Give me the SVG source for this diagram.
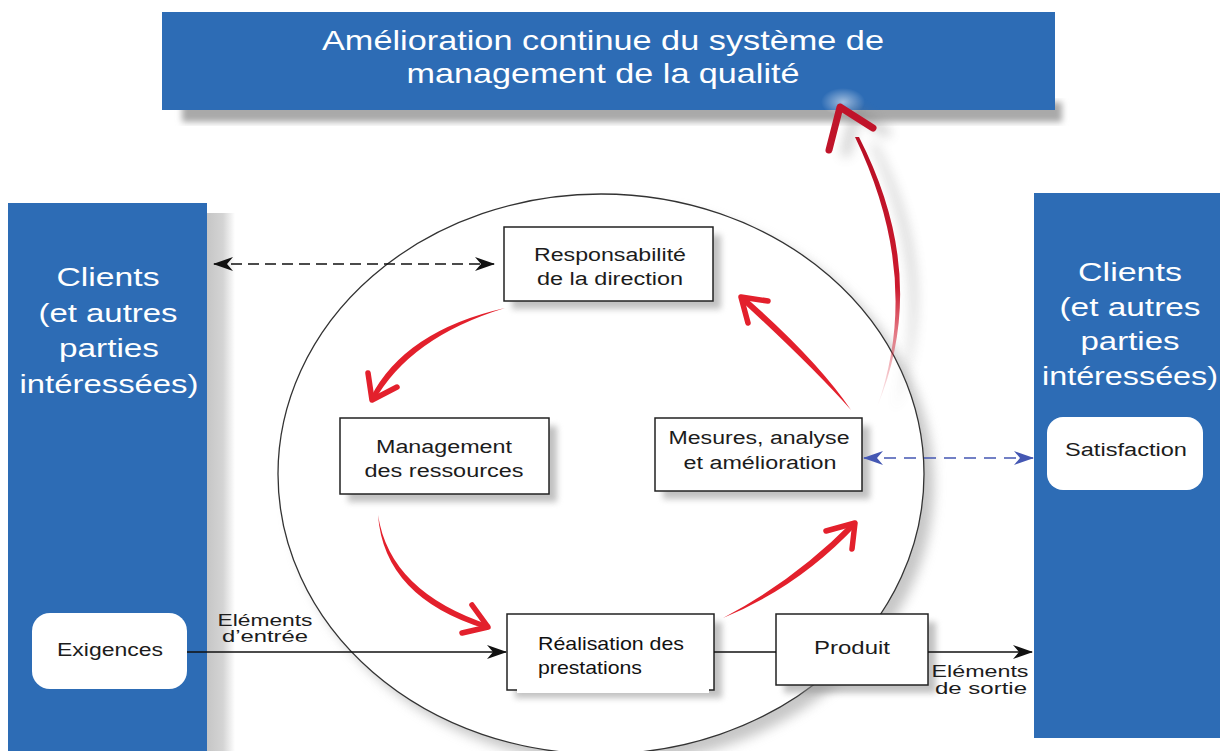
<svg xmlns="http://www.w3.org/2000/svg" width="1220" height="751" viewBox="0 0 1220 751">
  <defs>
    <style>
      .panel { fill: #2d6cb5; }
      .ptxt { font-family: "Liberation Sans", Arial, sans-serif; font-size: 26px; fill: #ffffff; text-anchor: middle; }
      .btxt { font-family: "Liberation Sans", Arial, sans-serif; font-size: 28px; fill: #ffffff; text-anchor: middle; }
      .box { fill: #ffffff; stroke: #222222; stroke-width: 1.5; }
      .pill { fill: #ffffff; }
      .ntxt { font-family: "Liberation Sans", Arial, sans-serif; font-size: 18px; fill: #1c1c1c; text-anchor: middle; }
      .ltxt { font-family: "Liberation Sans", Arial, sans-serif; font-size: 16px; fill: #1c1c1c; text-anchor: middle; }
      .shadow { fill: #8f8f8f; opacity: 0.55; }
      .flow { stroke: #111111; stroke-width: 1.5; fill: none; }
      .dash { stroke: #111111; stroke-width: 1.6; stroke-dasharray: 11 6; fill: none; }
      .dashblue { stroke: #4457b3; stroke-width: 1.6; stroke-dasharray: 12 8; fill: none; }
      .redbody { fill: #e3202c; }
      .redhead { fill: none; stroke: #e3202c; stroke-width: 5.5; stroke-linecap: round; stroke-linejoin: round; }
    </style>
    <filter id="blur3" x="-20%" y="-20%" width="140%" height="140%">
      <feGaussianBlur stdDeviation="3"/>
    </filter>
    <filter id="blur6" x="-30%" y="-30%" width="160%" height="160%">
      <feGaussianBlur stdDeviation="6"/>
    </filter>
    <marker id="ahBlack" markerWidth="20" markerHeight="14" refX="19" refY="7" orient="auto-start-reverse" markerUnits="userSpaceOnUse">
      <path d="M0,0 L20,7 L0,14 L6,7 Z" fill="#111111"/>
    </marker>
    <marker id="ahBlue" markerWidth="20" markerHeight="14" refX="19" refY="7" orient="auto-start-reverse" markerUnits="userSpaceOnUse">
      <path d="M0,0 L20,7 L0,14 L6,7 Z" fill="#4457b3"/>
    </marker>
    <linearGradient id="bigShaft" gradientUnits="userSpaceOnUse" x1="0" y1="137" x2="0" y2="410">
      <stop offset="0" stop-color="#b80f25" stop-opacity="1"/>
      <stop offset="0.55" stop-color="#cc1a2e" stop-opacity="1"/>
      <stop offset="1" stop-color="#e04050" stop-opacity="0"/>
    </linearGradient>
    <linearGradient id="sideShade" x1="0" y1="0" x2="1" y2="0">
      <stop offset="0" stop-color="#c4c4c4"/>
      <stop offset="0.6" stop-color="#d4d4d4"/>
      <stop offset="1" stop-color="#ffffff"/>
    </linearGradient>
    <radialGradient id="glow">
      <stop offset="0" stop-color="#ffffff" stop-opacity="0.55"/>
      <stop offset="1" stop-color="#ffffff" stop-opacity="0"/>
    </radialGradient>
  </defs>

  <rect width="1220" height="751" fill="#ffffff"/>

  <!-- process ellipse with its soft shadow -->
  <g id="cycle-ring">
    <ellipse cx="611" cy="484" rx="323" ry="280" fill="#9a9a9a" opacity="0.55" filter="url(#blur6)"/>
    <ellipse cx="601" cy="474" rx="323" ry="280" fill="#ffffff" stroke="#333333" stroke-width="1.3"/>
  </g>

  <!-- top banner -->
  <g id="banner">
    <rect x="182" y="102" width="880" height="20" fill="#a9a9a9" filter="url(#blur3)"/>
    <rect class="panel" x="162" y="12" width="893" height="98"/>
    <ellipse cx="843" cy="102" rx="22" ry="14" fill="url(#glow)"/>
    <text class="btxt" x="603" y="50" textLength="562" lengthAdjust="spacingAndGlyphs">Amélioration continue du système de</text>
    <text class="btxt" x="603" y="83" textLength="393" lengthAdjust="spacingAndGlyphs">management de la qualité</text>
  </g>

  <!-- left customers panel -->
  <g id="clients-left">
    <rect x="205" y="213" width="30" height="538" fill="url(#sideShade)"/>
    <rect class="panel" x="8" y="203" width="199" height="548"/>
    <text class="ptxt" x="108" y="286" textLength="103" lengthAdjust="spacingAndGlyphs">Clients</text>
    <text class="ptxt" x="108" y="322" textLength="139" lengthAdjust="spacingAndGlyphs">(et autres</text>
    <text class="ptxt" x="109" y="357" textLength="100" lengthAdjust="spacingAndGlyphs">parties</text>
    <text class="ptxt" x="109" y="393" textLength="179" lengthAdjust="spacingAndGlyphs">intéressées)</text>
  </g>
  <g id="exigences">
    <rect class="pill" x="32" y="613" width="155" height="76" rx="18"/>
    <text class="ntxt" x="110" y="656" textLength="106" lengthAdjust="spacingAndGlyphs">Exigences</text>
  </g>

  <!-- right customers panel -->
  <g id="clients-right">
    <rect class="panel" x="1034" y="193" width="186" height="545"/>
    <text class="ptxt" x="1130" y="281" textLength="104" lengthAdjust="spacingAndGlyphs">Clients</text>
    <text class="ptxt" x="1130" y="316" textLength="141" lengthAdjust="spacingAndGlyphs">(et autres</text>
    <text class="ptxt" x="1130" y="350" textLength="99" lengthAdjust="spacingAndGlyphs">parties</text>
    <text class="ptxt" x="1130" y="385" textLength="176" lengthAdjust="spacingAndGlyphs">intéressées)</text>
  </g>
  <g id="satisfaction">
    <rect class="pill" x="1047" y="417" width="156" height="73" rx="16"/>
    <text class="ntxt" x="1126" y="456" textLength="122" lengthAdjust="spacingAndGlyphs">Satisfaction</text>
  </g>

  <!-- process boxes -->
  <g id="responsabilite">
    <rect class="shadow" x="512" y="235" width="209" height="74" filter="url(#blur3)"/>
    <rect class="box" x="504" y="227" width="209" height="74"/>
    <text class="ntxt" x="610" y="261" textLength="152" lengthAdjust="spacingAndGlyphs">Responsabilité</text>
    <text class="ntxt" x="610" y="285" textLength="146" lengthAdjust="spacingAndGlyphs">de la direction</text>
  </g>
  <g id="management">
    <rect class="shadow" x="348" y="426" width="209" height="76" filter="url(#blur3)"/>
    <rect class="box" x="340" y="418" width="209" height="76"/>
    <text class="ntxt" x="444" y="453" textLength="136" lengthAdjust="spacingAndGlyphs">Management</text>
    <text class="ntxt" x="444" y="477" textLength="159" lengthAdjust="spacingAndGlyphs">des ressources</text>
  </g>
  <g id="mesures">
    <rect class="shadow" x="663" y="426" width="207" height="73" filter="url(#blur3)"/>
    <rect class="box" x="655" y="418" width="207" height="73"/>
    <text class="ntxt" x="759" y="444" textLength="181" lengthAdjust="spacingAndGlyphs">Mesures, analyse</text>
    <text class="ntxt" x="760" y="469" textLength="153" lengthAdjust="spacingAndGlyphs">et amélioration</text>
  </g>
  <g id="realisation">
    <rect class="shadow" x="515" y="622" width="207" height="76" filter="url(#blur3)"/>
    <rect class="box" x="507" y="614" width="207" height="76"/>
    <rect x="517" y="687" width="192" height="6" fill="#ffffff"/>
    <text x="538" y="650" font-family="Liberation Sans, Arial, sans-serif" font-size="19" fill="#111111" textLength="146" lengthAdjust="spacingAndGlyphs">Réalisation des</text>
    <text x="538" y="674" font-family="Liberation Sans, Arial, sans-serif" font-size="19" fill="#111111" textLength="104" lengthAdjust="spacingAndGlyphs">prestations</text>
  </g>
  <g id="produit">
    <rect class="shadow" x="784" y="622" width="152" height="71" filter="url(#blur3)"/>
    <rect class="box" x="776" y="614" width="152" height="71"/>
    <text class="ntxt" x="852" y="654" textLength="76" lengthAdjust="spacingAndGlyphs">Produit</text>
  </g>

  <!-- connectors -->
  <g id="connectors">
    <line class="flow" x1="187" y1="652" x2="506" y2="652" marker-end="url(#ahBlack)"/>
    <line class="flow" x1="714" y1="652" x2="776" y2="652"/>
    <line class="flow" x1="928" y1="652" x2="1032" y2="652" marker-end="url(#ahBlack)"/>
    <line class="dash" x1="214" y1="264" x2="494" y2="264" marker-start="url(#ahBlack)" marker-end="url(#ahBlack)"/>
    <line class="dashblue" x1="864" y1="458" x2="1033" y2="458" marker-start="url(#ahBlue)" marker-end="url(#ahBlue)"/>

    <text class="ltxt" x="265" y="626" textLength="95" lengthAdjust="spacingAndGlyphs">Eléments</text>
    <text class="ltxt" x="265" y="642" textLength="86" lengthAdjust="spacingAndGlyphs">d’entrée</text>
    <text class="ltxt" x="980" y="677" textLength="97" lengthAdjust="spacingAndGlyphs">Eléments</text>
    <text class="ltxt" x="981" y="694" textLength="92" lengthAdjust="spacingAndGlyphs">de sortie</text>

    <!-- improvement cycle: brush-style red arrows -->
    <path class="redbody" d="M505,308 Q404.7,330.7 370.4,397.7 L373.6,402.3 Q409.3,337.3 505,308 Z"/>
    <polyline class="redhead" points="368,373 372,400 397,387"/>
    <path class="redbody" d="M378,515 Q384.1,597.8 486,629 L490,625 Q389.9,592.2 378,515 Z"/>
    <polyline class="redhead" points="462,633 488,627 472,605"/>
    <path class="redbody" d="M723,618 Q799.3,586.7 856.6,525.3 L853.4,520.7 Q794.7,580.3 723,618 Z"/>
    <polyline class="redhead" points="826,531 855,523 852,549"/>
    <path class="redbody" d="M851,410 Q816.9,359.7 743,295 L739,299 Q811.1,365.3 851,410 Z"/>
    <polyline class="redhead" points="748,323 741,297 768,301"/>

    <!-- rising arrow toward continual improvement -->
    <g opacity="0.45" filter="url(#blur6)" transform="translate(16,6)">
      <path d="M877,407 Q931,277.6 859,137 L855,137 Q923,278.4 877,407 Z" fill="#777777"/>
      <polyline points="829,150 840,106 873,128" fill="none" stroke="#777777" stroke-width="7"/>
    </g>
    <path d="M877,407 Q931,277.6 859,137 L855,137 Q923,278.4 877,407 Z" fill="url(#bigShaft)"/>
    <polyline points="829,150 840,107 873,128" fill="none" stroke="#c0142a" stroke-width="7" stroke-linejoin="round" stroke-linecap="round"/>
  </g>
</svg>
